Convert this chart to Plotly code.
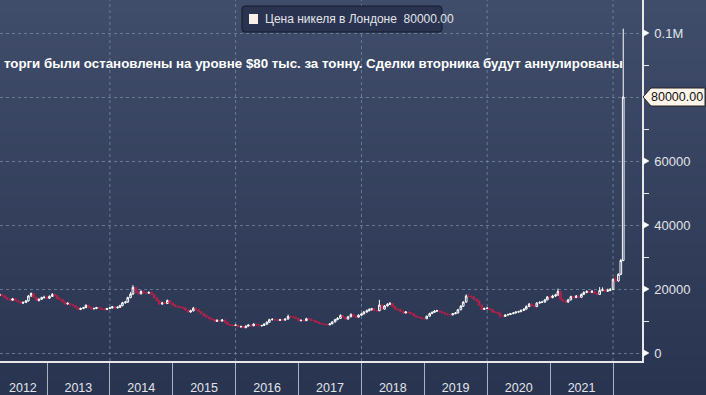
import pandas as pd
import plotly.graph_objects as go

# ---------------- DATA (semi-monthly candles, USD/t) ----------------
start_date = "2012-04-01"
end_date = "2022-03-01"

open_ = [
    18000, 18200, 17900, 17300, 16800, 16500, 16900, 16400, 16000, 15600, 15800, 16300, 17800, 18600, 17400, 16400, 16800, 17300,
    17400, 17100, 17700, 18300, 17900, 17000, 16700, 16000, 15300, 15500, 15000, 14800, 14200, 13600, 13900, 14200, 14900, 14300, 13800, 13900, 14200, 14000, 13700, 13600,
    13900, 14100, 14400, 14100, 14300, 14800, 15700, 15900, 17300, 18400, 20500, 19000, 18500, 19200, 18900, 18700, 18900, 18300, 17300, 16400, 15300, 15600, 15500, 16400,
    15600, 15000, 14600, 14400, 14200, 14100, 13400, 12800, 13200, 14000, 13500, 12900, 12300, 11700, 11200, 10800, 10500, 9900, 10200, 10000, 10300, 9500, 8900, 8700,
    8600, 8700, 8200, 8300, 7900, 8400, 8700, 8500, 9000, 8800, 8500, 8600, 9000, 9600, 10400, 10500, 10300, 10200, 10400, 10300, 10600, 11400, 11300, 11200,
    10800, 10100, 10200, 10100, 10700, 10600, 10200, 10000, 9600, 9300, 9100, 8900, 8800, 9100, 9700, 10400, 10800, 11700, 11200, 10600, 11300, 12000, 11500, 11200,
    11800, 12200, 12800, 13200, 13500, 13800, 13300, 13200, 15000, 13700, 14700, 15200, 15500, 14500, 13700, 13500, 13000, 12500, 12800, 12600, 12300, 11600, 11200, 11100,
    10800, 10700, 11500, 12300, 12700, 13100, 13200, 12900, 12600, 12200, 12000, 11900, 12300, 12500, 13500, 14600, 15900, 17800, 17700, 17600, 16800, 16300, 15000, 13600,
    13900, 14000, 13600, 12800, 12700, 12500, 11500, 11400, 11900, 12000, 12300, 12500, 12800, 12900, 13300, 13700, 14500, 15300, 14800, 14500, 15600, 15800, 15900, 16600,
    17500, 17300, 17800, 18100, 19200, 16800, 16200, 15900, 16600, 17600, 17300, 17800, 17400, 18300, 18900, 19200, 18900, 19300, 18600, 18300, 19500, 19700, 19300, 19500,
    19800, 23000, 22500, 24600, 28900,
]
high = [
    18600, 18500, 18100, 17500, 17000, 17200, 17100, 16600, 16200, 16100, 16500, 18100, 18900, 18700, 17500, 17100, 17600, 17900,
    17800, 18000, 18700, 18500, 18000, 17300, 16900, 16100, 15900, 15700, 15300, 15000, 14300, 14200, 14400, 15200, 15000, 14400, 14200, 14400, 14400, 14100, 13900, 14100,
    14300, 14700, 14600, 14600, 15100, 16000, 16300, 17600, 19000, 21200, 20700, 19400, 19600, 19500, 19200, 19300, 19100, 18400, 17500, 16500, 16000, 16000, 16700, 16500,
    15800, 15200, 14900, 14700, 14500, 14200, 13500, 13500, 14400, 14200, 13600, 13100, 12400, 11900, 11300, 11000, 10600, 10500, 10400, 10600, 10400, 9600, 9100, 8900,
    8900, 8800, 8500, 8400, 8600, 9000, 8900, 9300, 9100, 8900, 8800, 9300, 9900, 10700, 10900, 10700, 10500, 10700, 10600, 10800, 12000, 11700, 11600, 11300,
    10900, 10500, 10400, 11000, 11000, 10700, 10300, 10100, 9700, 9400, 9200, 9100, 9300, 9900, 10700, 11200, 12100, 11900, 11300, 11600, 12400, 12100, 11700, 12100,
    12500, 13100, 13600, 14000, 14100, 13900, 13600, 16600, 15300, 15000, 15600, 15900, 15600, 14600, 14000, 13700, 13200, 13100, 13000, 12800, 12400, 11800, 11500, 11300,
    11000, 11700, 12600, 13000, 13400, 13500, 13300, 13000, 12700, 12300, 12200, 12500, 12800, 13800, 15000, 16200, 18300, 18600, 18000, 17700, 17000, 16400, 15100, 14200,
    14300, 14100, 13700, 13000, 12900, 12600, 11700, 12100, 12300, 12500, 12700, 13000, 13200, 13600, 14000, 14900, 15600, 15400, 15000, 15900, 16200, 16300, 16900, 17800,
    18000, 18200, 18500, 20100, 19400, 17000, 16500, 16900, 17900, 17800, 18100, 18000, 18600, 19300, 19600, 19400, 19700, 19400, 18800, 20600, 20500, 20000, 20100, 20300,
    23400, 24000, 24900, 29400, 101365,
]
low = [
    17800, 17700, 17100, 16600, 16200, 16300, 16200, 15700, 15400, 15300, 15600, 16100, 17600, 17200, 16200, 16100, 16600, 17000,
    16900, 16900, 17500, 17700, 16800, 16500, 15800, 15000, 15100, 14800, 14600, 14000, 13400, 13400, 13700, 14000, 14100, 13600, 13600, 13700, 13800, 13500, 13300, 13400,
    13700, 13900, 13900, 13900, 14100, 14600, 15400, 15700, 17100, 18200, 18700, 18200, 18300, 18600, 18400, 18500, 18100, 17000, 16100, 15000, 15100, 15300, 15300, 15300,
    14700, 14300, 14200, 14000, 13800, 13200, 12500, 12600, 13000, 13200, 12700, 12100, 11400, 11000, 10500, 10200, 9700, 9700, 9800, 9800, 9300, 8700, 8500, 8400,
    8400, 8000, 7900, 7600, 7800, 8300, 8300, 8400, 8600, 8300, 8300, 8500, 8900, 9500, 10200, 10100, 9900, 10000, 10100, 10100, 10500, 11000, 10900, 10600,
    9900, 9900, 9900, 10000, 10400, 10000, 9800, 9400, 9100, 8900, 8700, 8700, 8700, 9000, 9600, 10300, 10700, 11000, 10400, 10500, 11200, 11300, 11000, 11100,
    11600, 12100, 12600, 13000, 13300, 13100, 13000, 13100, 13500, 13600, 14500, 15000, 14300, 13400, 13300, 12800, 12300, 12400, 12400, 12100, 11400, 11000, 10900, 10600,
    10500, 10600, 11400, 12200, 12600, 12900, 12700, 12400, 12000, 11800, 11700, 11800, 12100, 12400, 13400, 14500, 15800, 17400, 17300, 16500, 16000, 14800, 13400, 13500,
    13700, 13400, 12600, 12500, 12300, 11100, 11200, 11300, 11700, 11900, 12100, 12400, 12600, 12800, 13200, 13600, 14400, 14500, 14300, 14400, 15400, 15600, 15800, 16500,
    17000, 17100, 17500, 18000, 16500, 15900, 15700, 15800, 16500, 17000, 17200, 17200, 17300, 18200, 18700, 18700, 18800, 18400, 18100, 18200, 19300, 19100, 19100, 19400,
    19700, 22200, 22300, 24300, 28700,
]
close = [
    18200, 17900, 17300, 16800, 16500, 16900, 16400, 16000, 15600, 15800, 16300, 17800, 18600, 17400, 16400, 16800, 17300, 17400,
    17100, 17700, 18300, 17900, 17000, 16700, 16000, 15300, 15500, 15000, 14800, 14200, 13600, 13900, 14200, 14900, 14300, 13800, 13900, 14200, 14000, 13700, 13600, 13900,
    14100, 14400, 14100, 14300, 14800, 15700, 15900, 17300, 18400, 20500, 19000, 18500, 19200, 18900, 18700, 18900, 18300, 17300, 16400, 15300, 15600, 15500, 16400, 15600,
    15000, 14600, 14400, 14200, 14100, 13400, 12800, 13200, 14000, 13500, 12900, 12300, 11700, 11200, 10800, 10500, 9900, 10200, 10000, 10300, 9500, 8900, 8700, 8600,
    8700, 8200, 8300, 7900, 8400, 8700, 8500, 9000, 8800, 8500, 8600, 9000, 9600, 10400, 10500, 10300, 10200, 10400, 10300, 10600, 11400, 11300, 11200, 10800,
    10100, 10200, 10100, 10700, 10600, 10200, 10000, 9600, 9300, 9100, 8900, 8800, 9100, 9700, 10400, 10800, 11700, 11200, 10600, 11300, 12000, 11500, 11200, 11800,
    12200, 12800, 13200, 13500, 13800, 13300, 13200, 15000, 13700, 14700, 15200, 15500, 14500, 13700, 13500, 13000, 12500, 12800, 12600, 12300, 11600, 11200, 11100, 10800,
    10700, 11500, 12300, 12700, 13100, 13200, 12900, 12600, 12200, 12000, 11900, 12300, 12500, 13500, 14600, 15900, 17800, 17700, 17600, 16800, 16300, 15000, 13600, 13900,
    14000, 13600, 12800, 12700, 12500, 11500, 11400, 11900, 12000, 12300, 12500, 12800, 12900, 13300, 13700, 14500, 15300, 14800, 14500, 15600, 15800, 15900, 16600, 17500,
    17300, 17800, 18100, 19200, 16800, 16200, 15900, 16600, 17600, 17300, 17800, 17400, 18300, 18900, 19200, 18900, 19300, 18600, 18300, 19500, 19700, 19300, 19500, 19800,
    23000, 22500, 24600, 28900, 80000,
]

y_tickvals = [0, 20000, 40000, 60000, 80000, 100000]
y_ticktext = ["0", "20000", "40000", "60000", "", "0.1M"]
year_labels = ["2012", "2013", "2014", "2015", "2016", "2017", "2018", "2019", "2020", "2021"]
year_label_pos = ["2012-08-14", "2013-07-02", "2014-07-02", "2015-07-02", "2016-07-02",
                  "2017-07-02", "2018-07-02", "2019-07-02", "2020-07-02", "2021-07-02"]
year_bounds = ["2013-01-01", "2014-01-01", "2015-01-01", "2016-01-01", "2017-01-01",
               "2018-01-01", "2019-01-01", "2020-01-01", "2021-01-01", "2022-01-01"]
grid_years = ["2014-01-01", "2016-01-01", "2018-01-01", "2020-01-01", "2022-01-01"]
last_price = 80000
legend_text = "Цена никеля в Лондоне  80000.00"
note_text = "торги были остановлены на уровне $80 тыс. за тонну. Сделки вторника будут аннулированы"

dates = pd.date_range(start_date, end_date, freq="SMS")
assert len(dates) == len(open_) == len(high) == len(low) == len(close), (
    len(dates), len(open_), len(high), len(low), len(close))

# ---------------- FIGURE ----------------
W, H = 706, 395
ML, MR, MT, MB = 0, 64, 0, 34
PW, PH = W - ML - MR, H - MT - MB
FONT = "Liberation Sans, Arial, sans-serif"

fig = go.Figure()
fig.add_trace(go.Candlestick(
    x=dates, open=open_, high=high, low=low, close=close,
    increasing=dict(line=dict(color="#ffffff", width=1), fillcolor="rgba(0,0,0,0)"),
    decreasing=dict(line=dict(color="#b0234c", width=1), fillcolor="#b0234c"),
    whiskerwidth=0, showlegend=False, hoverinfo="skip",
))

shapes = []
# background gradient
top_c = (0x40, 0x4d, 0x6a)
bot_c = (0x29, 0x34, 0x50)
nb = 60
y_top, y_bot = 1.0, -MB / PH
for i in range(nb):
    t = i / (nb - 1)
    c = tuple(round(top_c[k] + (bot_c[k] - top_c[k]) * t) for k in range(3))
    ya = y_top - (y_top - y_bot) * i / nb
    yb = y_top - (y_top - y_bot) * (i + 1) / nb
    shapes.append(dict(type="rect", xref="paper", yref="paper", x0=-0.01, x1=1.2,
                       y0=yb - 0.002, y1=ya, layer="below", line=dict(width=0),
                       fillcolor="rgb(%d,%d,%d)" % c))
# vertical dotted gridlines
for d in grid_years:
    shapes.append(dict(type="line", xref="x", yref="paper", x0=d, x1=d, y0=0, y1=1,
                       layer="below", line=dict(color="rgba(120,140,170,0.75)", width=1, dash="dot")))
# tick triangles on right axis
for v, t in zip(y_tickvals, y_ticktext):
    if t == "":
        continue
    shapes.append(dict(type="path", xref="paper", yref="y", xsizemode="pixel", ysizemode="pixel",
                       xanchor=1, yanchor=v, path="M1,-3.5 L7,0 L1,3.5 Z",
                       fillcolor="#ffffff", line=dict(color="#ffffff", width=0.5), layer="above"))
# price tag
shapes.append(dict(type="path", xref="paper", yref="y", xsizemode="pixel", ysizemode="pixel",
                   xanchor=1, yanchor=last_price,
                   path="M1,0 L9,9 L63,9 L63,-9 L9,-9 Z",
                   fillcolor="#fff5ea", line=dict(color="#222222", width=1), layer="above"))
# legend box (rounded)
bx0, bx1, by0, by1, r = 242, 442, 6, 32, 3
def px(x):
    return x / PW
def py(y):
    return 1 - y / PH
path = (f"M{px(bx0 + r)},{py(by0)} L{px(bx1 - r)},{py(by0)} Q{px(bx1)},{py(by0)} {px(bx1)},{py(by0 + r)} "
        f"L{px(bx1)},{py(by1 - r)} Q{px(bx1)},{py(by1)} {px(bx1 - r)},{py(by1)} "
        f"L{px(bx0 + r)},{py(by1)} Q{px(bx0)},{py(by1)} {px(bx0)},{py(by1 - r)} "
        f"L{px(bx0)},{py(by0 + r)} Q{px(bx0)},{py(by0)} {px(bx0 + r)},{py(by0)} Z")
shapes.append(dict(type="path", xref="paper", yref="paper", path=path,
                   fillcolor="#2a3450", line=dict(color="#141a28", width=1), layer="above"))
shapes.append(dict(type="rect", xref="paper", yref="paper", x0=px(249), x1=px(258), y0=py(24), y1=py(14),
                   fillcolor="#fbefe9", line=dict(width=0), layer="above"))

annotations = [
    dict(xref="paper", yref="paper", x=px(263), y=py(19), xanchor="left", yanchor="middle",
         text=legend_text, showarrow=False, font=dict(family=FONT, size=12, color="#e2e4ea")),
    dict(xref="paper", yref="paper", x=px(313), y=py(64), xanchor="center", yanchor="middle",
         text="<b>" + note_text + "</b>", showarrow=False, font=dict(family=FONT, size=13.3, color="#ffffff")),
    dict(xref="paper", yref="y", x=1, y=last_price, xanchor="left", yanchor="middle", xshift=7,
         text="%.2f" % last_price, showarrow=False, font=dict(family=FONT, size=12.5, color="#111111")),
]

fig.update_layout(
    width=W, height=H,
    margin=dict(l=ML, r=MR, t=MT, b=MB, pad=0),
    paper_bgcolor="rgb(41,52,80)", plot_bgcolor="rgba(0,0,0,0)",
    showlegend=False, shapes=shapes, annotations=annotations,
    font=dict(family=FONT, color="#e2e4ea"),
    boxgap=0.02,
    xaxis=dict(
        type="date", range=["2012-04-03", "2022-06-18"], rangeslider=dict(visible=False),
        showgrid=False, zeroline=False, showline=True, linecolor="#e8e8e8", linewidth=1.5,
        tickmode="array", tickvals=year_label_pos, ticktext=year_labels, ticks="",
        ticklabelstandoff=14, tickfont=dict(family=FONT, size=12.5, color="#e2e4ea"),
        minor=dict(tickmode="array", tickvals=year_bounds, ticks="outside", ticklen=40,
                   tickcolor="#aab2c2", tickwidth=1, showgrid=False),
        fixedrange=True,
    ),
    yaxis=dict(
        side="right", range=[-2500, 110312], showgrid=True, gridcolor="rgba(120,140,170,0.75)",
        griddash="dot", gridwidth=1, zeroline=False, showline=True, linecolor="#e8e8e8", linewidth=1.5,
        tickmode="array", tickvals=y_tickvals, ticktext=y_ticktext, ticks="",
        ticklabelstandoff=8, tickfont=dict(family=FONT, size=13, color="#e2e4ea"),
        minor=dict(tickmode="array", tickvals=[10000, 30000, 50000, 70000, 90000],
                   ticks="outside", ticklen=5, tickcolor="#e8e8e8", tickwidth=1, showgrid=False),
        fixedrange=True,
    ),
)

fig.write_html("out.html", config={"displayModeBar": False},
               post_script="document.body.style.margin='0';document.body.style.overflow='hidden';")
